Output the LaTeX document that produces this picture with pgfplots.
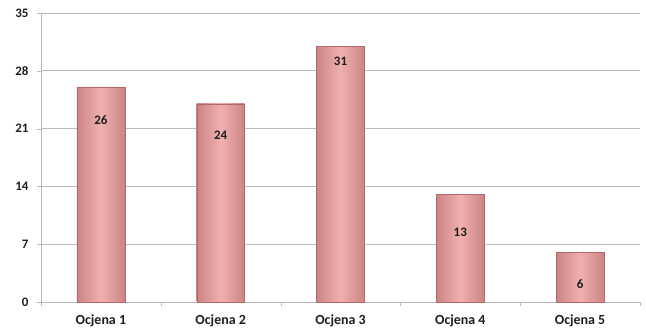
\documentclass[border=0pt]{standalone}
\usepackage{pgfplots}
\pgfplotsset{compat=1.18}
\usepackage{fontspec}
\setmainfont{Carlito}
\definecolor{barmid}{HTML}{F0B0B0}
\definecolor{baredge}{HTML}{CC8484}
\definecolor{bardraw}{HTML}{B06868}
\definecolor{gridc}{HTML}{BABABA}
\definecolor{txt}{HTML}{1E1E1E}
\begin{document}
\begin{tikzpicture}
\useasboundingbox (-41bp,-29bp) rectangle (605bp,302bp);
\begin{axis}[
  scale only axis, width=599bp, height=289bp,
  xmin=-0.5, xmax=4.5, ymin=0, ymax=35,
  ytick={0,7,14,21,28,35},
  xtick={0,1,2,3,4},
  xticklabels={Ocjena 1,Ocjena 2,Ocjena 3,Ocjena 4,Ocjena 5},
  minor xtick={-0.5,0.5,1.5,2.5,3.5,4.5},
  major x tick style={draw=none},
  minor tick length=4bp,
  major tick length=4bp,
  tick align=outside,
  tick style={gridc},
  axis lines*=left,
  axis line style={gridc},
  ymajorgrids, grid style={gridc, line width=0.8pt},
  minor grid style={draw=none},
  yticklabel style={font=\fontsize{13}{15}\selectfont\bfseries, text=txt, xshift=-5bp},
  xticklabel style={font=\fontsize{14}{16}\selectfont\bfseries, text=txt, yshift=-5bp},
  /pgf/number format/assume math mode=true,
  clip=false,
  ybar, bar width=0.4, bar shift=0pt,
  barsty/.style={draw=bardraw, left color=baredge, right color=baredge, middle color=barmid},
]
\addplot[barsty] coordinates {(0,26)};
\addplot[barsty] coordinates {(1,24)};
\addplot[barsty] coordinates {(2,31)};
\addplot[barsty] coordinates {(3,13)};
\addplot[barsty] coordinates {(4,6)};
\addplot[draw=none, mark=none, nodes near coords, point meta=explicit symbolic,
  every node near coord/.style={anchor=center, font=\fontsize{13}{15}\selectfont\bfseries, text=txt}]
  coordinates {(0,22.0)[26] (1,20.2)[24] (2,29.1)[31] (3,8.4)[13] (4,2.2)[6]};
\end{axis}
\end{tikzpicture}
\end{document}
